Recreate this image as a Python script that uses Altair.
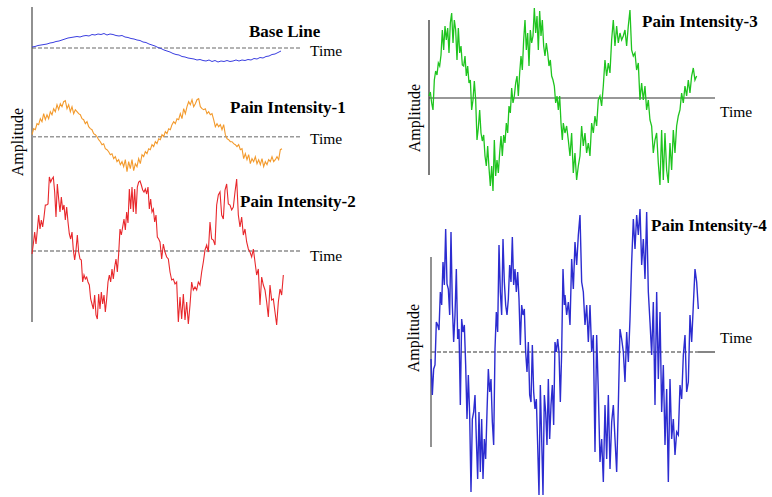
import altair as alt
import pandas as pd

FONT = "Liberation Serif"

# ---------------- signal amplitudes ----------------
BASE_AMP = [1, 1.5, 2.5, 3, 3.5, 4, 5, 5.5, 6.5, 7, 8, 9, 10, 10.5, 11, 11.5, 11, 12, 12.5, 12,
            13.5, 13, 14, 13.5, 14.5, 13, 14, 13.5, 12.5, 12, 12.5, 11, 10.5, 9.5, 9, 8, 7.5, 6, 5.5, 4,
            3, 2, 0.5, -0.5, -2, -3, -4, -5.5, -6.5, -7, -8.5, -9, -10, -10.5, -11, -12, -11.5, -12.5, -13, -12,
            -13.5, -12.5, -14, -13, -13.5, -12.5, -13.5, -13, -12, -13, -12, -12.5, -11.5, -12, -10.5, -11, -9.5, -10, -8.5, -8,
            -6.5, -6, -4.5, -3]

P1_AMP = [2, 8, 7, 13, 12, 18, 15, 23, 17, 22, 18, 25, 22, 28, 25, 32, 27, 33, 30, 35,
          36, 28, 32, 25, 30, 23, 27, 25, 23, 22, 18, 17, 13, 15, 10, 8, 7, 3, 2, 0,
          -3, -5, -8, -7, -12, -13, -15, -18, -17, -22, -20, -25, -23, -28, -25, -30, -23, -35, -25, -32,
          -23, -34, -27, -30, -22, -27, -18, -20, -15, -17, -12, -13, -8, -10, -5, -7, -2, -3, 2, 0,
          5, 3, 8, 7, 12, 15, 13, 18, 17, 23, 18, 28, 23, 30, 35, 32, 37, 30, 33, 37,
          38, 30, 28, 27, 28, 23, 25, 22, 23, 17, 10, 13, 10, 12, 7, 12, 2, -2, -3, -5,
          -5, -7, -8, -10, -8, -13, -12, -22, -17, -23, -18, -27, -22, -25, -20, -27, -23, -28, -22, -30,
          -25, -28, -23, -25, -20, -25, -23, -20, -23, -13, -12]

P2_AMP_A = [-3, 7, 19, 7, 21, 36, 22, 31, 24, 34, 46, 46, 47, 74, 69, 72, 74, 59, 34, 67,
            52, 39, 54, 41, 46, 31, 44, 29, 17, 12, 19, 1, -9, 1, 16, -1, -8, -9, -31, -24,
            -28, -26, -31, -34, -48, -53, -58, -44, -64, -68, -43, -58, -41, -53, -44, -61, -48, -31, -24, -31,
            -18, -28, -16, -8, -21, -3, 22, 16, 24, 32, 21, 39, 28, 62, 42, 64, 39, 62, 37, 64,
            69, 70, 66, 61, 59, 62, 57, 64, 42, 52, 39, 42, 29, 36, 14, 12]
P2_AMP_B = [9, -8, 7, -1, -6, -8, -21, -29, -28, -33, -31, -71, -46, -68, -43, -69, -51, -73, -54, -31,
            -39, -36, -39, -31, -34, -21, -11, 1, 6, -1, 29, 12, 11, 6, 46, 56, 59, 36, 32, 61,
            67, 47, 46, 41, 44, 59, 72, 36, 24, 34, 16, 22, 9, 2, -1, -6, 2, -11, -24, -18,
            -54, -26, -34, -39, -51, -66, -34, -49, -48, -61, -74, -51, -38, -44, -24]

P3_AMP_A = [2, 6, -5, -12, 18, 27, 23, 35, 32, 43, 68, 48, 72, 58, 70, 45, 75, 85, 55, 78,
            68, 38, 70, 45, 52, 33, 32, 42, 22, 32, 15, 18, -12, -2, 17, -2, -42, -30, -12, -35,
            -43, -37, -58, -68, -48, -70, -88, -68, -93, -42, -78, -62, -75, -55, -38, -58, -37, -45, -25, -35,
            -8, -15, 10, -5, 2, 15, 22, 2, 25, 42, 28, 58, 78, 48, 65, 32, 68, 55, 62, 90,
            65, 82, 48, 87, 62, 78, 52, 42, 55, 45, 32, 38, 22, 18, 12, -5, 2, -12, 2, -25, -42]
P3_AMP_B = [-25, -35, -28, -42, -58, -35, -75, -55, -82, -68, -58, -28, -48, -35, -55, -45, -58, -25, -35, -18,
            -28, -2, 2, -8, 12, 38, 22, 35, 25, 58, 78, 52, 72, 55, 65, 58, 62, 68, 52, 72,
            88, 48, 42, 45, 28, 35, -2, 15, -2, 12, -12, -2, -22, -28, -55, -42, -35, -65, -87, -32,
            -82, -35, -72, -85, -45, -72, -32, -55, -28, -18, -12, 5, -5, 12, 2, 18, 5, 22, 30, 18, 22]

P4_AMP_A = [-7, -43, -17, -13, 30, 27, 22, 60, 47, 90, 67, 123, 68, 63, 37, 120, 47, 10, 37, 83,
            13, 23, -53, 33, 20, 27, -13, -67, -23, -63, -140, -67, -60, -43, -87, -127, -60, -120, -67, -127,
            -87, -107, -60, -17, -40, -27, -70, -93, 3, 40, 20, 107, 60, 37, 113, 70, 47, 37, 53, 87,
            70, 115, 67, 83, 60, 80, 53, 7, 47, 37, 43, 0, -20, 10, -43, -50, 7, -40, -57, -47,
            -93, -143, -33, -87, -143, -43, -60, -93, -27, -87, -53, -33, -73, 10, 0, 13, 0, -50, 0, 83, 47]
P4_AMP_B = [57, 37, 50, 27, 93, 63, 110, 87, 117, 137, 70, 60, 27, 47, 10, 47, 0, 17, -100, 17,
            -40, -110, -87, -130, -53, -107, -43, -117, -70, -53, -87, -120, -53, 23, 13, 0, -30, 20, -10, 33,
            90, 133, 103, 137, 117, 143, 87, 113, 73, 140, 60, 30, -3, 50, -53, 60, -27, 40, -60, -13,
            -93, -37, -130, -27, -87, -67, -103, -80, -83, -33, -47, -3, 17, -40, -30, 37, 10, 47, 83, 70, 43]

# recording segments: (start time, sampling interval, amplitudes)
BASE_SEGS = [(0, 3, BASE_AMP)]
P1_SEGS = [(0, 5 / 3, P1_AMP)]
P2_SEGS = [(0, 4 / 3, P2_AMP_A), (128, 5 / 3, P2_AMP_B)]
P3_SEGS = [(0, 4 / 3, P3_AMP_A), (134.3, 5 / 3, P3_AMP_B)]
P4_SEGS = [(0, 4 / 3, P4_AMP_A), (134, 5 / 3, P4_AMP_B)]

TITLES = ["Base Line", "Pain Intensity-1", "Pain Intensity-2", "Pain Intensity-3", "Pain Intensity-4"]


def series(segs):
    rows = []
    for t0, dt, amps in segs:
        rows += [{"t": t0 + i * dt, "a": a} for i, a in enumerate(amps)]
    return pd.DataFrame(rows)


ONE = alt.Data(values=[{}])


def panel(segs, color, sw, W, H, xdom, ydom, title, title_at, time_at, zero_end,
          zero_color, zero_dash, zero_w, axis_span=None, axis_color="#555", axis_w=1.3,
          amp_at=None, solid_tail=None):
    xs = alt.Scale(domain=xdom, nice=False, zero=False)
    ys = alt.Scale(domain=ydom, nice=False, zero=False)

    def X(v):
        return alt.XDatum(v, scale=xs, axis=None)

    def Y(v):
        return alt.YDatum(v, scale=ys, axis=None)

    layers = []
    zl = dict(color=zero_color, strokeWidth=zero_w)
    if zero_dash:
        zl["strokeDash"] = zero_dash
    layers.append(alt.Chart(ONE).mark_rule(**zl).encode(x=X(0), x2=alt.datum(zero_end), y=Y(0)))
    if solid_tail is not None:
        layers.append(alt.Chart(ONE).mark_rule(color=zero_color, strokeWidth=zero_w).encode(
            x=X(solid_tail[0]), x2=alt.datum(solid_tail[1]), y=Y(0)))
    if axis_span is not None:
        layers.append(alt.Chart(ONE).mark_rule(color=axis_color, strokeWidth=axis_w).encode(
            x=X(0), y=Y(axis_span[0]), y2=alt.datum(axis_span[1])))
    layers.append(alt.Chart(series(segs)).mark_line(color=color, strokeWidth=sw).encode(
        x=alt.X("t:Q", scale=xs, axis=None),
        y=alt.Y("a:Q", scale=ys, axis=None),
    ))
    layers.append(alt.Chart(ONE).mark_text(text=title, font=FONT, fontSize=17, fontWeight="bold",
                                           align="left", baseline="alphabetic", color="black").encode(
        x=X(title_at[0]), y=Y(title_at[1])))
    layers.append(alt.Chart(ONE).mark_text(text="Time", font=FONT, fontSize=15.5,
                                           align="left", baseline="alphabetic", color="black").encode(
        x=X(time_at[0]), y=Y(time_at[1])))
    if amp_at is not None:
        layers.append(alt.Chart(ONE).mark_text(text="Amplitude", font=FONT, fontSize=16, angle=270,
                                               align="center", baseline="middle", color="black").encode(
            x=X(amp_at[0]), y=Y(amp_at[1])))
    return alt.layer(*layers).properties(width=W, height=H)


LW, RW = 380, 382
p0 = panel(BASE_SEGS, "#3a3ee0", 1.0, LW, 92, [-32, 348], [-44, 48], TITLES[0], (217, 11.3), (278, -8),
           270, "#9a9a9a", [4, 2], 1.5, axis_span=(41, -274), axis_color="#555", axis_w=1.3)
p1 = panel(P1_SEGS, "#f39a2c", 1.1, LW, 84, [-32, 348], [-39.3, 44.7], TITLES[1], (198, 23.7), (278, -7.6),
           270, "#9a9a9a", [4, 2], 1.5, amp_at=(-14.5, -5.3))
p2 = panel(P2_SEGS, "#e8282c", 1.1, LW, 321, [-32, 348], [-246, 75], TITLES[2], (208, 44), (278, -10),
           270, "#555555", [4, 2], 1.1)
p3 = panel(P3_SEGS, "#1fc41f", 1.3, RW, 205, [-39, 343], [-107, 98], TITLES[3], (213, 71.3), (291, -19.3),
           286, "#333333", None, 1.2, axis_span=(78, -77), axis_color="#333", axis_w=1.3, amp_at=(-14.5, -20))
p4 = panel(P4_SEGS, "#2c2cd0", 1.4, RW, 292, [-41, 341], [-145, 147], TITLES[4], (220, 121.3), (289, 9.3),
           267, "#333333", [4, 2], 1.2, axis_span=(95, -95), axis_color="#777", axis_w=1.6,
           amp_at=(-17.5, 14), solid_tail=(267, 284))

left = alt.vconcat(p0, p1, p2, spacing=0, bounds="flush")
right = alt.vconcat(p3, p4, spacing=0, bounds="flush")
chart = alt.hconcat(left, right, spacing=10).properties(
    padding=0, background="white"
).configure_view(stroke=None)

chart.save("out.html", embed_options={"renderer": "svg", "actions": False})
